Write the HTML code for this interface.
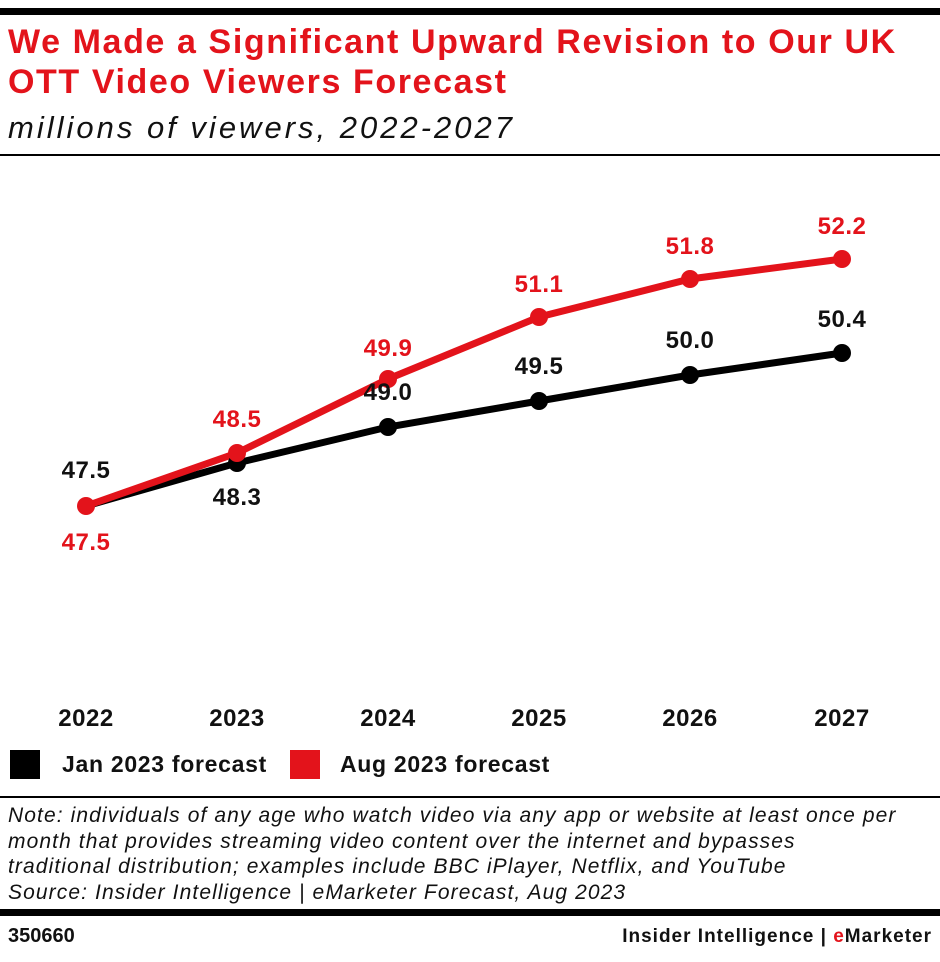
<!DOCTYPE html>
<html><head><style>
body{margin:0;width:940px;height:962px;background:#fff;position:relative;font-family:"Liberation Sans",sans-serif;overflow:hidden}
.a{position:absolute;white-space:nowrap}
</style></head><body>
<div class="a" style="left:0;top:8px;width:940px;height:7px;background:#000"></div>
<div class="a" style="left:8px;top:22px;font-size:34px;font-weight:bold;color:#e3131b;line-height:40px;letter-spacing:1.6px">We Made a Significant Upward Revision to Our UK<br>OTT Video Viewers Forecast</div>
<div class="a" style="left:8px;top:110px;font-size:31px;font-style:italic;color:#111;letter-spacing:3px">millions of viewers, 2022-2027</div>
<div class="a" style="left:0;top:154px;width:940px;height:2px;background:#000"></div>
<svg class="a" style="left:0;top:0" width="940" height="800">
<polyline points="86,506 237,463 388,427 539,401 690,375 842,353" fill="none" stroke="#000" stroke-width="7"/>
<polyline points="86,506 237,453 388,379 539,317 690,279 842,259" fill="none" stroke="#e3131b" stroke-width="7"/>
<g fill="#000"><circle cx="237" cy="463" r="9"/><circle cx="388" cy="427" r="9"/><circle cx="539" cy="401" r="9"/><circle cx="690" cy="375" r="9"/><circle cx="842" cy="353" r="9"/></g>
<g fill="#e3131b"><circle cx="86" cy="506" r="9"/><circle cx="237" cy="453" r="9"/><circle cx="388" cy="379" r="9"/><circle cx="539" cy="317" r="9"/><circle cx="690" cy="279" r="9"/><circle cx="842" cy="259" r="9"/></g>
<g font-family="Liberation Sans" font-weight="bold" font-size="24" text-anchor="middle" letter-spacing="0.5">
<g fill="#111"><text x="86" y="478">47.5</text><text x="237" y="505">48.3</text><text x="388" y="400">49.0</text><text x="539" y="374">49.5</text><text x="690" y="348">50.0</text><text x="842" y="327">50.4</text></g>
<g fill="#e3131b"><text x="86" y="550">47.5</text><text x="237" y="427">48.5</text><text x="388" y="356">49.9</text><text x="539" y="292">51.1</text><text x="690" y="254">51.8</text><text x="842" y="234">52.2</text></g>
<g fill="#111" font-size="24"><text x="86" y="726">2022</text><text x="237" y="726">2023</text><text x="388" y="726">2024</text><text x="539" y="726">2025</text><text x="690" y="726">2026</text><text x="842" y="726">2027</text></g>
</g>
<rect x="10" y="750" width="30" height="29" fill="#000"/>
<rect x="290" y="750" width="30" height="29" fill="#e3131b"/>
<g font-family="Liberation Sans" font-weight="bold" font-size="23" fill="#111" letter-spacing="0.7"><text x="62" y="772">Jan 2023 forecast</text><text x="340" y="772">Aug 2023 forecast</text></g>
</svg>
<div class="a" style="left:0;top:796px;width:940px;height:2px;background:#000"></div>
<div class="a" style="left:8px;top:803px;font-size:21px;font-style:italic;color:#111;line-height:25.7px;letter-spacing:1.1px">Note: individuals of any age who watch video via any app or website at least once per<br>month that provides streaming video content over the internet and bypasses<br>traditional distribution; examples include BBC iPlayer, Netflix, and YouTube<br>Source: Insider Intelligence | eMarketer Forecast, Aug 2023</div>
<div class="a" style="left:0;top:909px;width:940px;height:7px;background:#000"></div>
<div class="a" style="left:8px;top:925px;font-size:20px;font-weight:bold;color:#111">350660</div>
<div class="a" style="right:8px;top:926px;font-size:19px;font-weight:bold;color:#111;letter-spacing:1px">Insider Intelligence | <span style="color:#e3131b">e</span>Marketer</div>
</body></html>
